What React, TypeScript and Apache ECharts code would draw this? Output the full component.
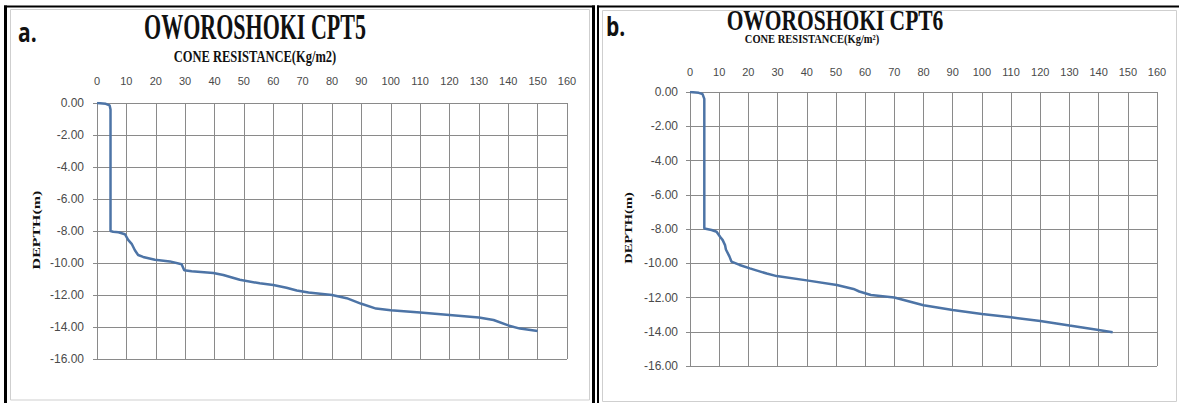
import React, { useEffect, useRef } from "react";
import * as echarts from "echarts";

// CPT5 (panel a)
const cpt5Resistance = [0, 3, 4.3, 4.6, 4.6, 5.5, 7.3, 9.5, 10.6, 11.8, 12.9, 14, 15.7, 19.7, 24.8, 28.8, 29.7, 32.2, 39.6, 43, 48.6, 55.4, 60, 64.5, 68, 72, 80, 85, 90, 95, 100, 110, 120, 130, 135, 140, 144, 150];
const cpt5Depth = [0, -0.05, -0.15, -0.4, -8.0, -8.05, -8.08, -8.2, -8.55, -8.8, -9.2, -9.5, -9.62, -9.8, -9.9, -10.08, -10.45, -10.52, -10.62, -10.75, -11.05, -11.27, -11.38, -11.55, -11.72, -11.85, -12.0, -12.2, -12.55, -12.85, -12.95, -13.1, -13.25, -13.4, -13.56, -13.9, -14.1, -14.25];

// CPT6 (panel b)
const cpt6Resistance = [0, 3, 4.3, 4.9, 4.9, 7.4, 9.1, 10.3, 11.2, 12, 12.3, 13.5, 14.2, 17, 20.5, 26.3, 29.7, 40, 50.3, 56, 58, 62, 70, 80, 90, 100, 110, 120, 130, 140, 144.8];
const cpt6Depth = [0, -0.05, -0.12, -0.4, -7.97, -8.06, -8.16, -8.45, -8.65, -8.94, -9.2, -9.6, -9.9, -10.1, -10.3, -10.6, -10.75, -11.0, -11.27, -11.5, -11.65, -11.85, -12.0, -12.45, -12.73, -12.96, -13.16, -13.37, -13.64, -13.9, -14.03];

const titles = ["OWOROSHOKI CPT5", "OWOROSHOKI CPT6"];
const subtitles = ["CONE RESISTANCE(Kg/m2)", "CONE RESISTANCE(Kg/m\u00b2)"];
const panelLabels = ["a.", "b."];
const yAxisName = "DEPTH(m)";

const xMin = 0, xMax = 160, xStep = 10;
const yMin = -16, yMax = 0, yStep = 2;

const lineColor = "#4d74a6";
const gridColor = "#8a8a8a";
const labelColor = "#4a4a4a";

function zip(xs: number[], ys: number[]) {
  return xs.map((x, i) => [x, ys[i]]);
}

export default function App() {
  const ref = useRef<HTMLDivElement>(null);
  useEffect(() => {
    document.body.style.margin = "0";
    const chart = echarts.init(ref.current!, null, { renderer: "svg" });
    const xAxisCommon = (gridIndex: number, margin: number) => ({
      gridIndex,
      type: "value",
      position: "top",
      min: xMin,
      max: xMax,
      interval: xStep,
      axisLine: { show: true, lineStyle: { color: gridColor, width: 1 } },
      axisTick: { show: false },
      axisLabel: { color: labelColor, fontSize: 11, fontFamily: "'Liberation Sans', Arial, sans-serif", margin },
      splitLine: { show: true, lineStyle: { color: gridColor, width: 1 } },
    });
    const yAxisCommon = (gridIndex: number, margin: number) => ({
      gridIndex,
      type: "value",
      min: yMin,
      max: yMax,
      interval: yStep,
      axisLine: { show: true, onZero: false, lineStyle: { color: gridColor, width: 1 } },
      axisTick: { show: true, inside: false, length: 4, lineStyle: { color: gridColor } },
      axisLabel: {
        color: labelColor,
        fontSize: 12,
        fontFamily: "'Liberation Sans', Arial, sans-serif",
        margin,
        formatter: (v: number) => v.toFixed(2),
      },
      splitLine: { show: true, lineStyle: { color: gridColor, width: 1 } },
    });
    const serif = "'Liberation Serif', 'Times New Roman', serif";
    const text = (t: string, x: number, y: number, font: string, sx: number, sy: number, align = "center", rotation = 0, fill = "#111") => ({
      type: "text",
      x,
      y,
      scaleX: sx,
      scaleY: sy,
      rotation,
      silent: true,
      style: {
        text: t,
        font,
        fill,
        align,
        verticalAlign: "middle",
        textAlign: align,
        textVerticalAlign: "middle",
      },
    });
    const line = (x1: number, y1: number, x2: number, y2: number, color: string, w: number) => ({
      type: "line",
      silent: true,
      shape: { x1, y1, x2, y2 },
      style: { stroke: color, lineWidth: w },
    });
    chart.setOption({
      animation: false,
      backgroundColor: "#ffffff",
      grid: [
        { left: 97, top: 103, width: 470, height: 256, containLabel: false },
        { left: 690, top: 92, width: 467, height: 274, containLabel: false },
      ],
      xAxis: [xAxisCommon(0, 17), xAxisCommon(1, 15)],
      yAxis: [yAxisCommon(0, 13), yAxisCommon(1, 12)],
      series: [
        {
          type: "line",
          xAxisIndex: 0,
          yAxisIndex: 0,
          data: zip(cpt5Resistance, cpt5Depth),
          showSymbol: false,
          lineStyle: { color: lineColor, width: 2.5 },
          itemStyle: { color: lineColor },
        },
        {
          type: "line",
          xAxisIndex: 1,
          yAxisIndex: 1,
          data: zip(cpt6Resistance, cpt6Depth),
          showSymbol: false,
          lineStyle: { color: lineColor, width: 2.5 },
          itemStyle: { color: lineColor },
        },
      ],
      graphic: [
        // light inner frames
        { type: "rect", silent: true, shape: { x: 10.5, y: 9.5, width: 579, height: 390.5 }, style: { fill: "none", stroke: "#cfcfcf", lineWidth: 1 } },
        { type: "rect", silent: true, shape: { x: 602.5, y: 10.5, width: 574, height: 391 }, style: { fill: "none", stroke: "#cfcfcf", lineWidth: 1 } },
        // black borders
        line(5.5, 5.5, 5.5, 403, "#000", 3),
        line(4, 6.5, 595, 6.5, "#000", 2),
        line(593.5, 5.5, 593.5, 403, "#000", 3),
        line(598, 5.5, 598, 403, "#000", 2),
        line(597, 6.5, 1179, 6.5, "#000", 2),
        // titles
        text(titles[0], 255, 27, `bold 22px ${serif}`, 1, 1.6),
        text(subtitles[0], 255, 56, `bold 12.5px ${serif}`, 1, 1.3),
        text(titles[1], 835, 20, `bold 21.5px ${serif}`, 1, 1.4),
        text(subtitles[1], 812, 39, `bold 10.5px ${serif}`, 1, 1.25),
        // panel labels
        text(panelLabels[0], 18, 31, "bold 21px 'Open Sans', sans-serif", 1, 1.3, "left"),
        text(panelLabels[1], 606, 25, "bold 21px 'Open Sans', sans-serif", 1, 1.3, "left"),
        // y axis names
        text(yAxisName, 36, 230, `bold 11px ${serif}`, 1.45, 1, "center", Math.PI / 2),
        text(yAxisName, 629, 228, `bold 10px ${serif}`, 1.45, 1, "center", Math.PI / 2),
      ],
    });
    return () => chart.dispose();
  }, []);
  return <div ref={ref} style={{ width: 1179, height: 403 }} />;
}
